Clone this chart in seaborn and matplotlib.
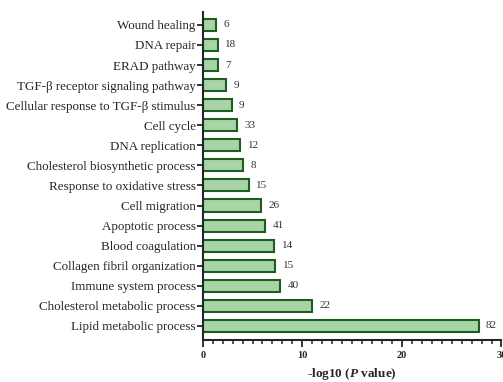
import matplotlib
matplotlib.use("Agg")
import matplotlib.pyplot as plt
import seaborn as sns
import pandas as pd
from matplotlib.ticker import MultipleLocator

terms = [
    "Wound healing", "DNA repair", "ERAD pathway",
    "TGF-β receptor signaling pathway", "Cellular response to TGF-β stimulus",
    "Cell cycle", "DNA replication", "Cholesterol biosynthetic process",
    "Response to oxidative stress", "Cell migration", "Apoptotic process",
    "Blood coagulation", "Collagen fibril organization", "Immune system process",
    "Cholesterol metabolic process", "Lipid metabolic process",
]
neg_log_p = [1.3, 1.5, 1.55, 2.35, 2.9, 3.4, 3.75, 4.05, 4.6, 5.9, 6.25,
             7.2, 7.3, 7.75, 11.0, 27.7]
counts = [6, 18, 7, 9, 9, 33, 12, 8, 15, 26, 41, 14, 15, 40, 22, 82]

df = pd.DataFrame({"term": terms, "value": neg_log_p, "count": counts})

sns.set_style("ticks")
plt.rcParams["font.family"] = ["Liberation Serif", "DejaVu Serif"]
plt.rcParams["mathtext.fontset"] = "custom"
plt.rcParams["mathtext.rm"] = "Liberation Serif"
plt.rcParams["mathtext.it"] = "Liberation Serif:italic"
plt.rcParams["mathtext.bf"] = "Liberation Serif:bold"
plt.rcParams["mathtext.bfit"] = "Liberation Serif:italic:bold"

fig = plt.figure(figsize=(5.03, 3.82), dpi=100)
ax = fig.add_axes([0.403, 0.110, 0.594, 0.859])

sns.barplot(data=df, x="value", y="term", order=terms, orient="h",
            color="#a8d5a8", edgecolor="#1b5e20", linewidth=1.5,
            width=0.6, saturation=1, ax=ax)

for i, (v, c) in enumerate(zip(neg_log_p, counts)):
    ax.text(v + 0.75, i, str(c), va="center", ha="left", fontsize=8,
            color="#333333")

ax.set_xlim(0, 30)
ax.set_ylim(len(terms) - 0.3, -0.65)
ax.xaxis.set_major_locator(MultipleLocator(10))
ax.xaxis.set_minor_locator(MultipleLocator(1))
ax.tick_params(axis="x", which="major", length=5, width=1.3, labelsize=7.5,
               pad=3)
ax.tick_params(axis="x", which="minor", length=3, width=1.1)
ax.tick_params(axis="y", length=4, width=1.3, labelsize=9.35, pad=1)
for lbl in ax.get_xticklabels():
    lbl.set_fontweight("bold")

ax.set_ylabel("")
ax.set_xlabel(r"-log10 ($\bfit{P}$ value)", fontsize=9.5, fontweight="bold",
              labelpad=4)
for side in ["top", "right"]:
    ax.spines[side].set_visible(False)
for side in ["left", "bottom"]:
    ax.spines[side].set_linewidth(1.5)

fig.savefig("out.png", dpi=100)
